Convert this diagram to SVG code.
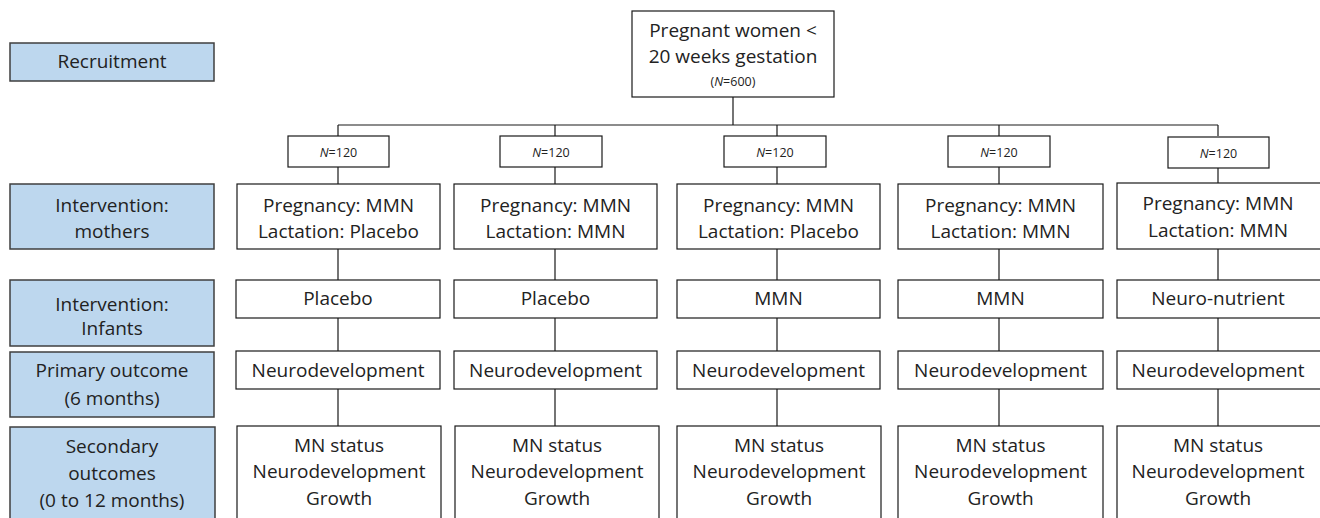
<svg xmlns="http://www.w3.org/2000/svg" width="1320" height="518" viewBox="0 0 1320 518">
<style>
.lab rect{fill:#bdd7ee;stroke:#3f3f3f;stroke-width:1.5}
.node rect{fill:#fff;stroke:#1a1a1a;stroke-width:1.2}
text{font-family:"Open Sans","Liberation Sans",sans-serif;font-size:19px;fill:#222;text-anchor:middle}
.s{font-size:12.5px}
.conn path{stroke:#1a1a1a;stroke-width:1.2;fill:none}
</style>
<rect width="1320" height="518" fill="#fff"/>
<g class="conn">
<path d="M733 97V125M338 125H1218"/>
<path d="M338 125V136M338 167V184M338 249V280M338 318V351M338 389V426"/>
<path d="M555 125V136M555 167V184M555 249V280M555 318V351M555 389V426"/>
<path d="M777 125V136M777 167V184M777 249V280M777 318V351M777 389V426"/>
<path d="M999 125V136M999 167V184M999 249V280M999 318V351M999 389V426"/>
<path d="M1218 125V136M1218 167V184M1218 249V280M1218 318V351M1218 389V426"/>
</g>
<g id="lab-recruit" class="lab"><rect x="10" y="43" width="204" height="38"/><text x="112" y="68">Recruitment</text></g>
<g id="lab-mothers" class="lab"><rect x="10" y="184" width="204" height="65"/><text x="112" y="212">Intervention:</text><text x="112" y="238">mothers</text></g>
<g id="lab-infants" class="lab"><rect x="10" y="280" width="204" height="66"/><text x="112" y="311">Intervention:</text><text x="112" y="335">Infants</text></g>
<g id="lab-primary" class="lab"><rect x="10" y="352" width="204" height="65"/><text x="112" y="377">Primary outcome</text><text x="112" y="405">(6 months)</text></g>
<g id="lab-secondary" class="lab"><rect x="10" y="427" width="205" height="100"/><text x="112" y="453">Secondary</text><text x="112" y="480">outcomes</text><text x="112" y="507">(0 to 12 months)</text></g>
<g id="top" class="node"><rect x="632" y="11" width="202" height="86"/><text x="733" y="37">Pregnant women &lt;</text><text x="733" y="63">20 weeks gestation</text><text class="s" x="733" y="86">(<tspan font-style="italic">N</tspan>=600)</text></g>
<g id="n1" class="node"><rect x="288" y="136" width="101" height="31"/><text class="s" x="338.5" y="157"><tspan font-style="italic">N</tspan>=120</text></g>
<g id="n2" class="node"><rect x="500" y="136" width="102" height="31"/><text class="s" x="551" y="157"><tspan font-style="italic">N</tspan>=120</text></g>
<g id="n3" class="node"><rect x="724" y="136" width="102" height="31"/><text class="s" x="775" y="157"><tspan font-style="italic">N</tspan>=120</text></g>
<g id="n4" class="node"><rect x="948" y="136" width="102" height="31"/><text class="s" x="999" y="157"><tspan font-style="italic">N</tspan>=120</text></g>
<g id="n5" class="node"><rect x="1168" y="137" width="101" height="31"/><text class="s" x="1218.5" y="158"><tspan font-style="italic">N</tspan>=120</text></g>
<g id="m1" class="node"><rect x="237" y="184" width="203" height="65"/><text x="338.5" y="212">Pregnancy: MMN</text><text x="338.5" y="238">Lactation: Placebo</text></g>
<g id="m2" class="node"><rect x="454" y="184" width="203" height="65"/><text x="555.5" y="212">Pregnancy: MMN</text><text x="555.5" y="238">Lactation: MMN</text></g>
<g id="m3" class="node"><rect x="677" y="184" width="203" height="65"/><text x="778.5" y="212">Pregnancy: MMN</text><text x="778.5" y="238">Lactation: Placebo</text></g>
<g id="m4" class="node"><rect x="898" y="184" width="205" height="65"/><text x="1000.5" y="212">Pregnancy: MMN</text><text x="1000.5" y="238">Lactation: MMN</text></g>
<g id="m5" class="node"><rect x="1117" y="183" width="205" height="66"/><text x="1218" y="210">Pregnancy: MMN</text><text x="1218" y="237">Lactation: MMN</text></g>
<g id="i1" class="node"><rect x="236" y="280" width="204" height="38"/><text x="338" y="305">Placebo</text></g>
<g id="i2" class="node"><rect x="454" y="280" width="203" height="38"/><text x="555.5" y="305">Placebo</text></g>
<g id="i3" class="node"><rect x="677" y="280" width="203" height="38"/><text x="778.5" y="305">MMN</text></g>
<g id="i4" class="node"><rect x="898" y="280" width="205" height="38"/><text x="1000.5" y="305">MMN</text></g>
<g id="i5" class="node"><rect x="1117" y="280" width="205" height="38"/><text x="1218" y="305">Neuro-nutrient</text></g>
<g id="p1" class="node"><rect x="236" y="351" width="204" height="38"/><text x="338" y="377">Neurodevelopment</text></g>
<g id="p2" class="node"><rect x="454" y="351" width="203" height="38"/><text x="555.5" y="377">Neurodevelopment</text></g>
<g id="p3" class="node"><rect x="677" y="351" width="203" height="38"/><text x="778.5" y="377">Neurodevelopment</text></g>
<g id="p4" class="node"><rect x="898" y="351" width="205" height="38"/><text x="1000.5" y="377">Neurodevelopment</text></g>
<g id="p5" class="node"><rect x="1117" y="351" width="205" height="38"/><text x="1218" y="377">Neurodevelopment</text></g>
<g id="s1" class="node"><rect x="237" y="426" width="204" height="100"/><text x="339" y="452">MN status</text><text x="339" y="478">Neurodevelopment</text><text x="339" y="505">Growth</text></g>
<g id="s2" class="node"><rect x="455" y="426" width="204" height="100"/><text x="557" y="452">MN status</text><text x="557" y="478">Neurodevelopment</text><text x="557" y="505">Growth</text></g>
<g id="s3" class="node"><rect x="677" y="426" width="204" height="100"/><text x="779" y="452">MN status</text><text x="779" y="478">Neurodevelopment</text><text x="779" y="505">Growth</text></g>
<g id="s4" class="node"><rect x="898" y="426" width="205" height="100"/><text x="1000.5" y="452">MN status</text><text x="1000.5" y="478">Neurodevelopment</text><text x="1000.5" y="505">Growth</text></g>
<g id="s5" class="node"><rect x="1117" y="426" width="205" height="100"/><text x="1218" y="452">MN status</text><text x="1218" y="478">Neurodevelopment</text><text x="1218" y="505">Growth</text></g>
</svg>
